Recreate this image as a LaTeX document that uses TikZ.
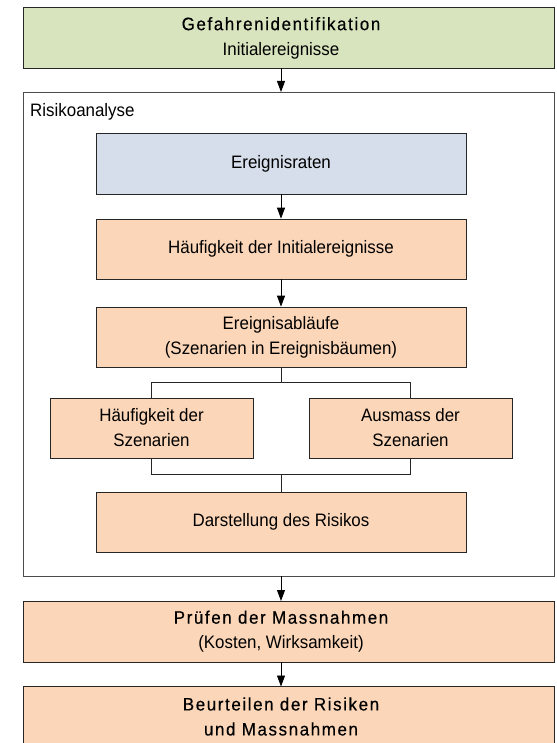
\documentclass[tikz,border=0pt]{standalone}
\usepackage{fontspec}
\setmainfont[FakeStretch=0.94]{Liberation Sans}
\newfontfamily\spacedfont[LetterSpace=9,FakeStretch=0.94,FakeBold=0.4]{Liberation Sans}
\usetikzlibrary{arrows.meta,shadows}
\definecolor{peach}{HTML}{FBD6B8}
\definecolor{olive}{HTML}{D7E4BD}
\definecolor{bluegray}{HTML}{D5DEEA}
\begin{document}
\begin{tikzpicture}[x=1pt,y=-1pt,
  every node/.style={font=\fontsize{18}{25}\selectfont, inner sep=0pt, align=center},
  box/.style={draw=black!85, line width=0.7pt, fill=peach,
    drop shadow={shadow xshift=0.7pt, shadow yshift=-1pt, fill=black!55, opacity=1}},
  frame/.style={draw=black!70, line width=0.7pt},
  arr/.style={draw=black, line width=0.8pt, -{Triangle[length=11pt,width=8pt]}},
  link/.style={draw=black!85, line width=0.8pt}]
\useasboundingbox (0,0) rectangle (556,743);
\clip (0,0) rectangle (556,743);
\fill[white] (0,0) rectangle (556,743);

% outer boxes: x 23 .. 554
\node[frame, minimum width=531pt, minimum height=484pt] (risiko) at (288.5,334) {};
\node[anchor=base west] (rlabel) at (30,117) {Risikoanalyse};

\node[box, fill=olive, minimum width=531pt, minimum height=61pt] (gefahr) at (288.5,38) {};
\node (gefahrtxt) at (281,38) {{\spacedfont Gefahrenidentifikation}\\Initialereignisse};

\node[box, fill=bluegray, minimum width=370pt, minimum height=61pt] (raten) at (281,163.5) {Ereignisraten};
\node[box, minimum width=370pt, minimum height=60pt] (haeuf) at (281,249) {Häufigkeit der Initialereignisse};
\node[box, minimum width=370pt, minimum height=60pt] (ablauf) at (281,337) {Ereignisabläufe\\(Szenarien in Ereignisbäumen)};
\node[box, minimum width=203pt, minimum height=60pt] (hsz) at (151.5,428) {Häufigkeit der\\Szenarien};
\node[box, minimum width=203pt, minimum height=60pt] (asz) at (410.5,428) {Ausmass der\\Szenarien};
\node[box, minimum width=370pt, minimum height=60pt] (darst) at (281,522) {Darstellung des Risikos};

\node[box, minimum width=531pt, minimum height=61pt] (pruef) at (288.5,631.5) {};
\node (prueftxt) at (281,631.5) {{\spacedfont Prüfen der Massnahmen}\\(Kosten, Wirksamkeit)};
\node[box, minimum width=531pt, minimum height=60pt] (beurt) at (288.5,716.5) {};
\node (beurttxt) at (281,716.5) {\spacedfont Beurteilen der Risiken\\\spacedfont und Massnahmen};

\coordinate (split) at (281,382);
\coordinate (join) at (281,474);
\coordinate (g1) at (281,68.5);
\coordinate (r1) at (281,92);
\coordinate (r2) at (281,576);
\coordinate (p1) at (281,601);
\coordinate (p2) at (281,662);
\coordinate (b1) at (281,686.5);

\draw[arr] (g1) -- (r1);
\draw[arr] (raten.south) -- (haeuf.north);
\draw[arr] (haeuf.south) -- (ablauf.north);
\draw[link] (ablauf.south) -- (split);
\draw[link] (split) -| (hsz.north);
\draw[link] (split) -| (asz.north);
\draw[link] (hsz.south) |- (join);
\draw[link] (asz.south) |- (join);
\draw[link] (join) -- (darst.north);
\draw[arr] (r2) -- (p1);
\draw[arr] (p2) -- (b1);
\end{tikzpicture}
\end{document}
